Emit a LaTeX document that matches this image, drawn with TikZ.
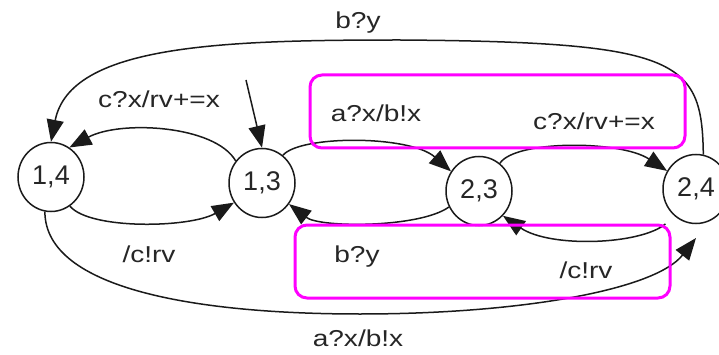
\documentclass[tikz,border=0pt]{standalone}
\usepackage{fontspec}
\setmainfont{Liberation Sans}
\newfontfamily\lblfont[FakeStretch=1.22]{Liberation Sans}
\usetikzlibrary{arrows.meta,shapes.geometric}
\definecolor{ink}{HTML}{1A1A1A}
\definecolor{txt}{HTML}{262626}
\definecolor{hl}{RGB}{255,0,255}

\begin{document}
\begin{tikzpicture}[x=1pt,y=-1pt,
  state/.style={ellipse, draw=ink, line width=1.5pt, minimum width=66pt,
    minimum height=69pt, inner sep=0pt, text=txt,
    font=\fontsize{27}{27}\selectfont},
  trans/.style={draw=ink, line width=1.5pt, -{Triangle[length=22pt,width=17pt]}},
  lbl/.style={anchor=base, inner sep=0pt, text=txt,
    font=\lblfont\fontsize{23}{23}\selectfont},
  hilite/.style={draw=hl, line width=3pt, rounded corners=12pt,
    inner sep=0pt, fill=none}]
\useasboundingbox (0,0) rectangle (719,355);

% states
\node[state] (n14) at (51,177) {1,4};
\node[state] (n13) at (262,183) {1,3};
\node[state] (n23) at (479,191) {2,3};
\node[state] (n24) at (696,189) {2,4};

% free ends
\coordinate (init) at (246,80);
\coordinate (tipB) at (696,238);

% transitions
\draw[trans] (n24.78) .. controls (702,60) and (680,42) .. (400,40)
  .. controls (220,40) and (70,45) .. (n14.90);
\draw[trans] (n13.140) .. controls (215,125) and (120,120) .. (n14.58);
\draw[trans] (init) -- (n13.90);
\draw[trans] (n14.-57) .. controls (90,230) and (190,228) .. (n13.215);
\draw[trans] (n13.53) .. controls (300,135) and (410,135) .. (n23.145);
\draw[trans] (n23.208) .. controls (420,228) and (320,228) .. (n13.-38);
\draw[trans] (n23.53) .. controls (515,140) and (620,140) .. (n24.148);
\draw[trans, shorten <=12pt] (n24.232) .. controls (640,245) and (550,248) .. (n23.-46);
\draw[trans] (n14.-100) .. controls (45,290) and (200,314) .. (360,314)
  .. controls (520,314) and (655,290) .. (tipB);

% transition labels
\node[lbl] (lby1) at (358,29) {b?y};
\node[lbl] (lcx1) at (159,108) {c?x/rv+=x};
\node[lbl] (lax1) at (376,122) {a?x/b!x};
\node[lbl] (lcx2) at (594,130) {c?x/rv+=x};
\node[lbl] (lcr1) at (149,262) {/c!rv};
\node[lbl] (lby2) at (357,262) {b?y};
\node[lbl] (lcr2) at (586,278) {/c!rv};
\node[lbl] (lax2) at (358,346) {a?x/b!x};

% highlight frames
\node[hilite, minimum width=375pt, minimum height=73pt] (boxA) at (497.5,111.5) {};
\node[hilite, minimum width=375pt, minimum height=73pt] (boxB) at (482.5,261.5) {};
\end{tikzpicture}
\end{document}
